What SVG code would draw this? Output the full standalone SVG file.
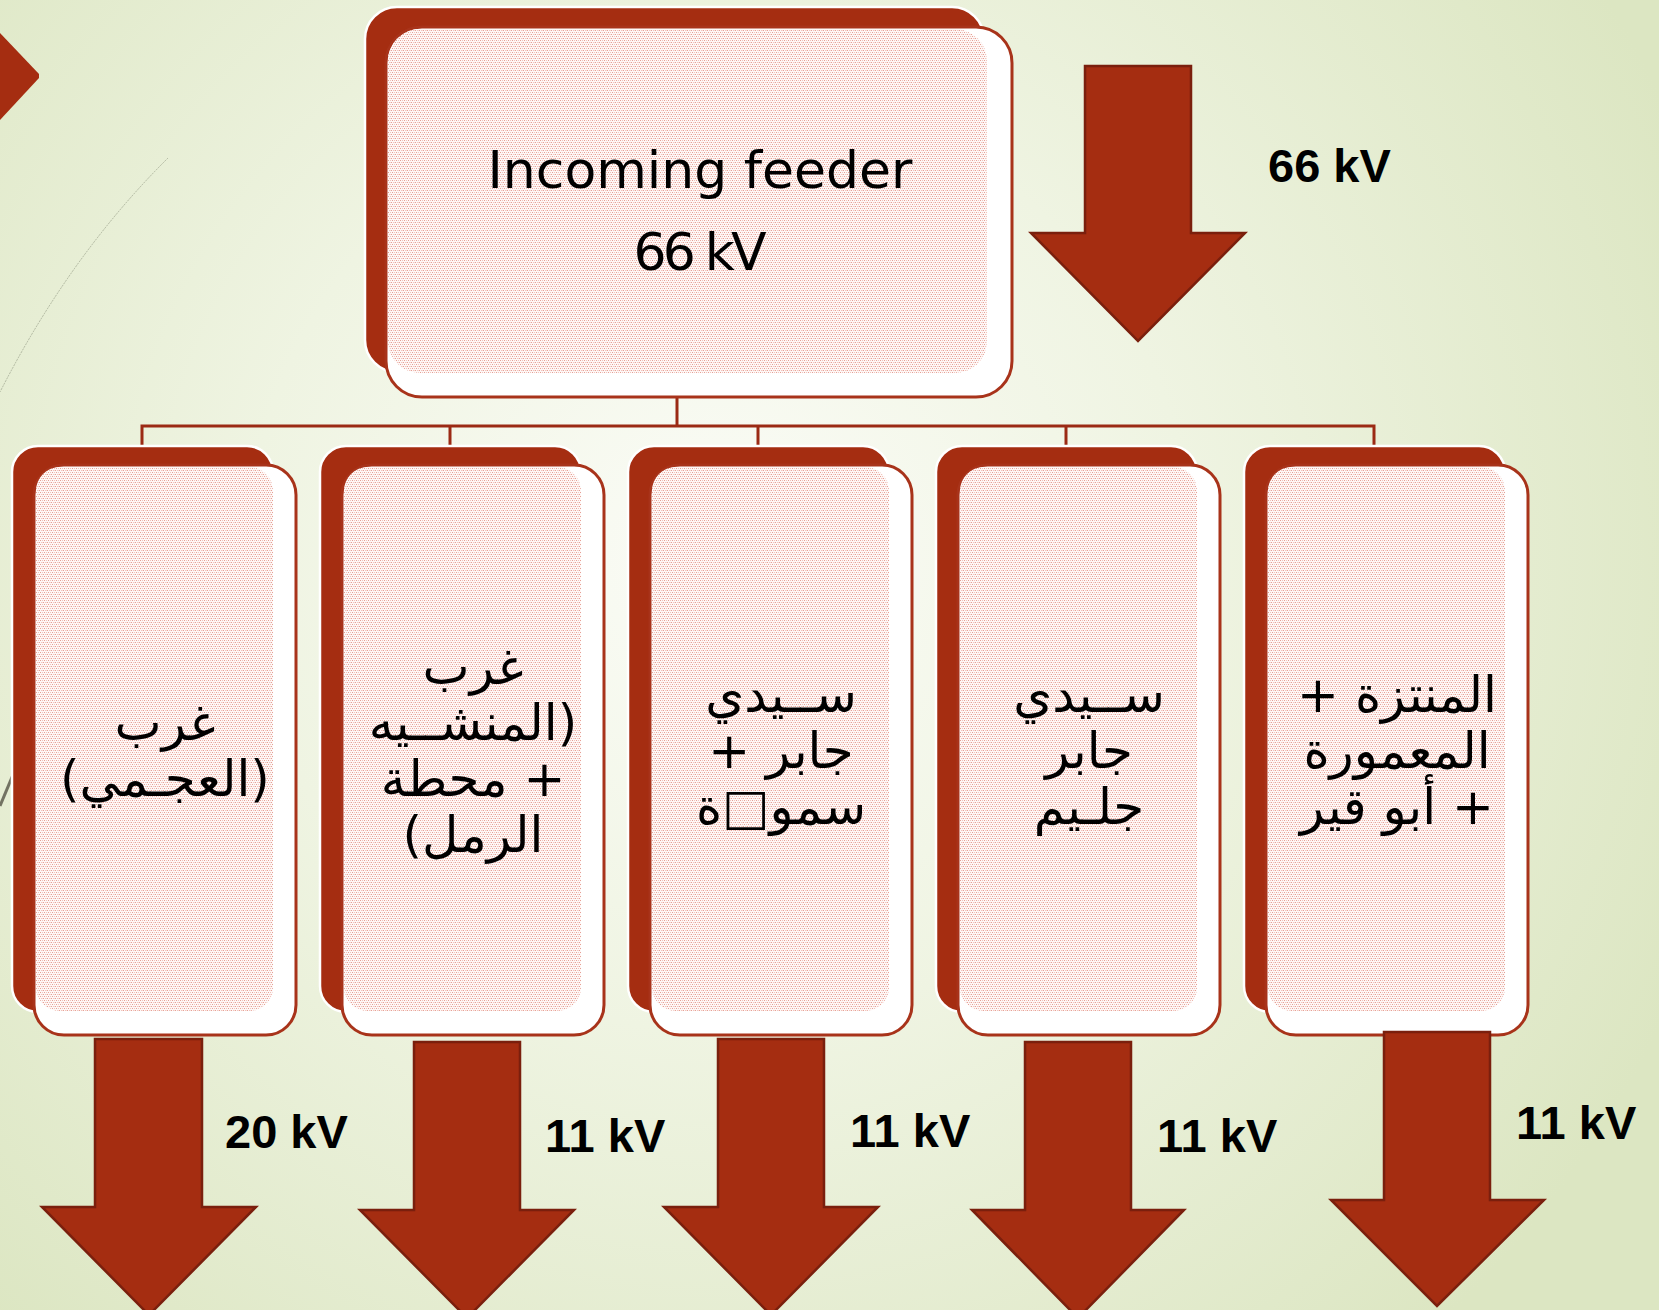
<svg xmlns="http://www.w3.org/2000/svg" width="1659" height="1310" viewBox="0 0 1659 1310">
  <defs>
    <radialGradient id="bg" gradientUnits="userSpaceOnUse" cx="720" cy="560" r="1050">
      <stop offset="0" stop-color="#fbfcf7"/>
      <stop offset="0.45" stop-color="#eff4e2"/>
      <stop offset="1" stop-color="#dce6c2"/>
    </radialGradient>
    <!-- fine pink dot texture used inside the boxes -->
    <pattern id="dots" width="4" height="4" patternUnits="userSpaceOnUse">
      <rect width="4" height="4" fill="#fef8f7"/>
      <rect x="0" y="0" width="1" height="1" fill="#e6a095"/>
      <rect x="2" y="0" width="1" height="1" fill="#f1c4bc"/>
      <rect x="1" y="2" width="1" height="1" fill="#f1c4bc"/>
      <rect x="3" y="2" width="1" height="1" fill="#e6a095"/>
      <rect x="2" y="2" width="1" height="1" fill="#f8dfda"/>
    </pattern>
    <style>
      .back { fill: #a52d11; stroke: #ffffff; stroke-width: 2.5; }
      .front { fill: #ffffff; stroke: #a8331a; stroke-width: 3; }
      .tex { fill: url(#dots); }
      .conn { fill: none; stroke: #9b2a14; stroke-width: 3; }
      .arrow { fill: #a52d11; stroke: #7a1f0d; stroke-width: 2.5; stroke-linejoin: miter; }
      .ar { font-family: "DejaVu Sans", sans-serif; font-size: 50px; fill: #000; text-anchor: middle; direction: rtl; }
      .en { font-family: "DejaVu Sans", sans-serif; font-size: 52px; fill: #000; text-anchor: middle; }
      .kv { font-family: "Liberation Sans", Arial, sans-serif; font-weight: bold; font-size: 47px; fill: #000; }
    </style>
  </defs>

  <!-- slide background -->
  <rect width="1659" height="1310" fill="url(#bg)"/>

  <!-- theme decoration on the left edge -->
  <g id="decor">
    <polygon points="0,33 39,74 39,78 0,120" fill="#a52d11"/>
    <path d="M168,158 Q70,255 0,392" fill="none" stroke="#8e947f" stroke-width="1" stroke-dasharray="2 1" opacity="0.6"/>
    <path d="M0,806 L20,758" fill="none" stroke="#727262" stroke-width="3"/>
  </g>

  <!-- tree connectors -->
  <g id="connectors">
    <path class="conn" d="M677,397 V426"/>
    <path class="conn" d="M142,446 V426 H1374 V446"/>
    <path class="conn" d="M450,426 V446"/>
    <path class="conn" d="M758,426 V446"/>
    <path class="conn" d="M1066,426 V446"/>
  </g>

  <!-- root node -->
  <g id="node-incoming">
    <rect class="back" x="365" y="7" width="619" height="365" rx="32"/>
    <rect class="front" x="386" y="27" width="626" height="370" rx="36"/>
    <rect class="tex" x="388" y="29" width="599" height="344" rx="32"/>
    <text class="en" x="700" y="188">Incoming feeder</text>
    <text class="en" x="700" y="270" textLength="133" lengthAdjust="spacing">66 kV</text>
  </g>

  <!-- substation nodes -->
  <g id="node-agamy">
    <rect class="back" x="12" y="446" width="261" height="566" rx="26"/>
    <rect class="front" x="34" y="465" width="262" height="570" rx="30"/>
    <rect class="tex" x="36" y="467" width="237" height="544" rx="24"/>
    <text class="ar" x="165" y="740">غرب</text>
    <text class="ar" x="165" y="796">(العجـمي)</text>
  </g>

  <g id="node-mansheya">
    <rect class="back" x="320" y="446" width="261" height="566" rx="26"/>
    <rect class="front" x="342" y="465" width="262" height="570" rx="30"/>
    <rect class="tex" x="344" y="467" width="237" height="544" rx="24"/>
    <text class="ar" x="473" y="684">غرب</text>
    <text class="ar" x="473" y="740">(المنشــيه</text>
    <text class="ar" x="473" y="796">+ محطة</text>
    <text class="ar" x="473" y="852">الرمل)</text>
  </g>

  <g id="node-sidi-gaber-smouha">
    <rect class="back" x="628" y="446" width="261" height="566" rx="26"/>
    <rect class="front" x="650" y="465" width="262" height="570" rx="30"/>
    <rect class="tex" x="652" y="467" width="237" height="544" rx="24"/>
    <text class="ar" x="781" y="712">ســيدي</text>
    <text class="ar" x="781" y="768">جابر +</text>
    <text class="ar" x="781" y="824">سمو□ة</text>
  </g>

  <g id="node-sidi-gaber-gleem">
    <rect class="back" x="936" y="446" width="261" height="566" rx="26"/>
    <rect class="front" x="958" y="465" width="262" height="570" rx="30"/>
    <rect class="tex" x="960" y="467" width="237" height="544" rx="24"/>
    <text class="ar" x="1089" y="712">ســيدي</text>
    <text class="ar" x="1089" y="768">جابر</text>
    <text class="ar" x="1089" y="824">جلـيم</text>
  </g>

  <g id="node-montaza">
    <rect class="back" x="1244" y="446" width="261" height="566" rx="26"/>
    <rect class="front" x="1266" y="465" width="262" height="570" rx="30"/>
    <rect class="tex" x="1268" y="467" width="237" height="544" rx="24"/>
    <text class="ar" x="1397" y="712">المنتزة +</text>
    <text class="ar" x="1397" y="768">المعمورة</text>
    <text class="ar" x="1397" y="824">+ أبو قير</text>
  </g>

  <!-- block arrows -->
  <g id="arrows">
    <polygon class="arrow" points="1085,66 1191,66 1191,233 1245,233 1138,341 1031,233 1085,233"/>
    <polygon class="arrow" points="95,1039 202,1039 202,1207 256,1207 149,1315 42,1207 95,1207"/>
    <polygon class="arrow" points="414,1042 520,1042 520,1210 574,1210 467,1318 360,1210 414,1210"/>
    <polygon class="arrow" points="718,1039 824,1039 824,1207 878,1207 771,1315 664,1207 718,1207"/>
    <polygon class="arrow" points="1025,1042 1131,1042 1131,1210 1184,1210 1078,1318 972,1210 1025,1210"/>
    <polygon class="arrow" points="1384,1032 1490,1032 1490,1200 1544,1200 1437,1306 1331,1200 1384,1200"/>
  </g>

  <!-- voltage labels -->
  <g id="labels">
    <text class="kv" x="1268" y="182">66 kV</text>
    <text class="kv" x="225" y="1148">20 kV</text>
    <text class="kv" x="545" y="1152">11 kV</text>
    <text class="kv" x="850" y="1147">11 kV</text>
    <text class="kv" x="1157" y="1152">11 kV</text>
    <text class="kv" x="1516" y="1139">11 kV</text>
  </g>
</svg>
